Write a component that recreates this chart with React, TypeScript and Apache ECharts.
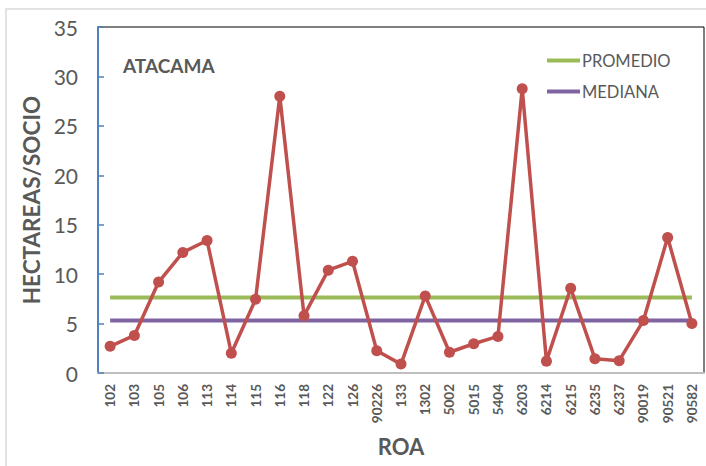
import React, { useEffect, useRef } from "react";
import * as echarts from "echarts";

const categories = ["102","103","105","106","113","114","115","116","118","122","126","90226","133","1302","5002","5015","5404","6203","6214","6215","6235","6237","90019","90521","90582"];
const hectareas = [2.7,3.8,9.2,12.2,13.4,2.0,7.45,28.0,5.8,10.4,11.3,2.26,0.9,7.8,2.1,2.96,3.7,28.76,1.2,8.57,1.45,1.25,5.3,13.7,5.0];
const promedioValue = 7.63;
const medianaValue = 5.3;
const yTicks = { min: 0, max: 35, interval: 5 };

export default function App() {
  const ref = useRef<HTMLDivElement>(null);
  useEffect(() => {
    document.body.style.margin = "0";
    const chart = echarts.init(ref.current!, null, { renderer: "svg" });
    const font = "Lato, 'Noto Sans', sans-serif";
    const gray = "#595959";
    chart.setOption({
      animation: false,
      textStyle: { fontFamily: font },
      graphic: [
        { type: "rect", shape: { x: 6, y: 9, width: 720, height: 480 }, style: { fill: "none", stroke: "#d9d9d9", lineWidth: 1.5 }, z: -10 },
        { type: "text", left: 123, top: 56, style: { text: "ATACAMA", font: `bold 19px ${font}`, fill: gray } },
      ],
      grid: { left: 98, top: 27, right: 2, bottom: 93, outerBoundsMode: "none", containLabel: false, show: true, borderColor: "#000", borderWidth: 1, backgroundColor: "#fff" },
      legend: {
        orient: "vertical",
        left: 542,
        top: 47,
        itemGap: 14,
        itemWidth: 33,
        itemHeight: 4,
        icon: "rect",
        textStyle: { fontSize: 16.5, color: gray, fontFamily: font, padding: [0, 0, 0, -3] },
        data: ["PROMEDIO", "MEDIANA"],
      },
      xAxis: {
        type: "category",
        data: categories,
        boundaryGap: true,
        name: "ROA",
        nameLocation: "middle",
        nameGap: 62,
        nameTextStyle: { fontSize: 22, fontWeight: "bold", color: gray, fontFamily: font },
        axisLine: { lineStyle: { color: "#bfbfbf", width: 2 } },
        axisTick: { show: false },
        axisLabel: { rotate: 90, interval: 0, fontSize: 13.5, fontWeight: "bold", color: gray, margin: 11, fontFamily: font },
      },
      yAxis: {
        type: "value",
        min: yTicks.min,
        max: yTicks.max,
        interval: yTicks.interval,
        name: "HECTAREAS/SOCIO",
        nameLocation: "middle",
        nameRotate: 90,
        nameGap: 55,
        nameTextStyle: { fontSize: 22.5, fontWeight: "bold", color: gray, fontFamily: font },
        axisLine: { show: true, lineStyle: { color: "#4f81bd", width: 2 } },
        axisTick: { show: true, inside: true, length: 6, lineStyle: { color: "#4f81bd", width: 1.5 } },
        splitLine: { show: false },
        axisLabel: { fontSize: 21, color: gray, margin: 20, fontFamily: font },
      },
      series: [
        {
          name: "HECTAREAS",
          type: "line",
          data: hectareas,
          symbol: "circle",
          symbolSize: 11,
          lineStyle: { color: "#c0504d", width: 3.5 },
          itemStyle: { color: "#c0504d" },
          z: 3,
        },
        {
          name: "PROMEDIO",
          type: "line",
          data: categories.map(() => promedioValue),
          symbol: "none",
          lineStyle: { color: "#9bbb59", width: 4 },
          itemStyle: { color: "#9bbb59" },
          z: 2,
        },
        {
          name: "MEDIANA",
          type: "line",
          data: categories.map(() => medianaValue),
          symbol: "none",
          lineStyle: { color: "#8064a2", width: 4 },
          itemStyle: { color: "#8064a2" },
          z: 2,
        },
      ],
    });
    return () => chart.dispose();
  }, []);
  return <div ref={ref} style={{ width: 706, height: 466 }} />;
}
